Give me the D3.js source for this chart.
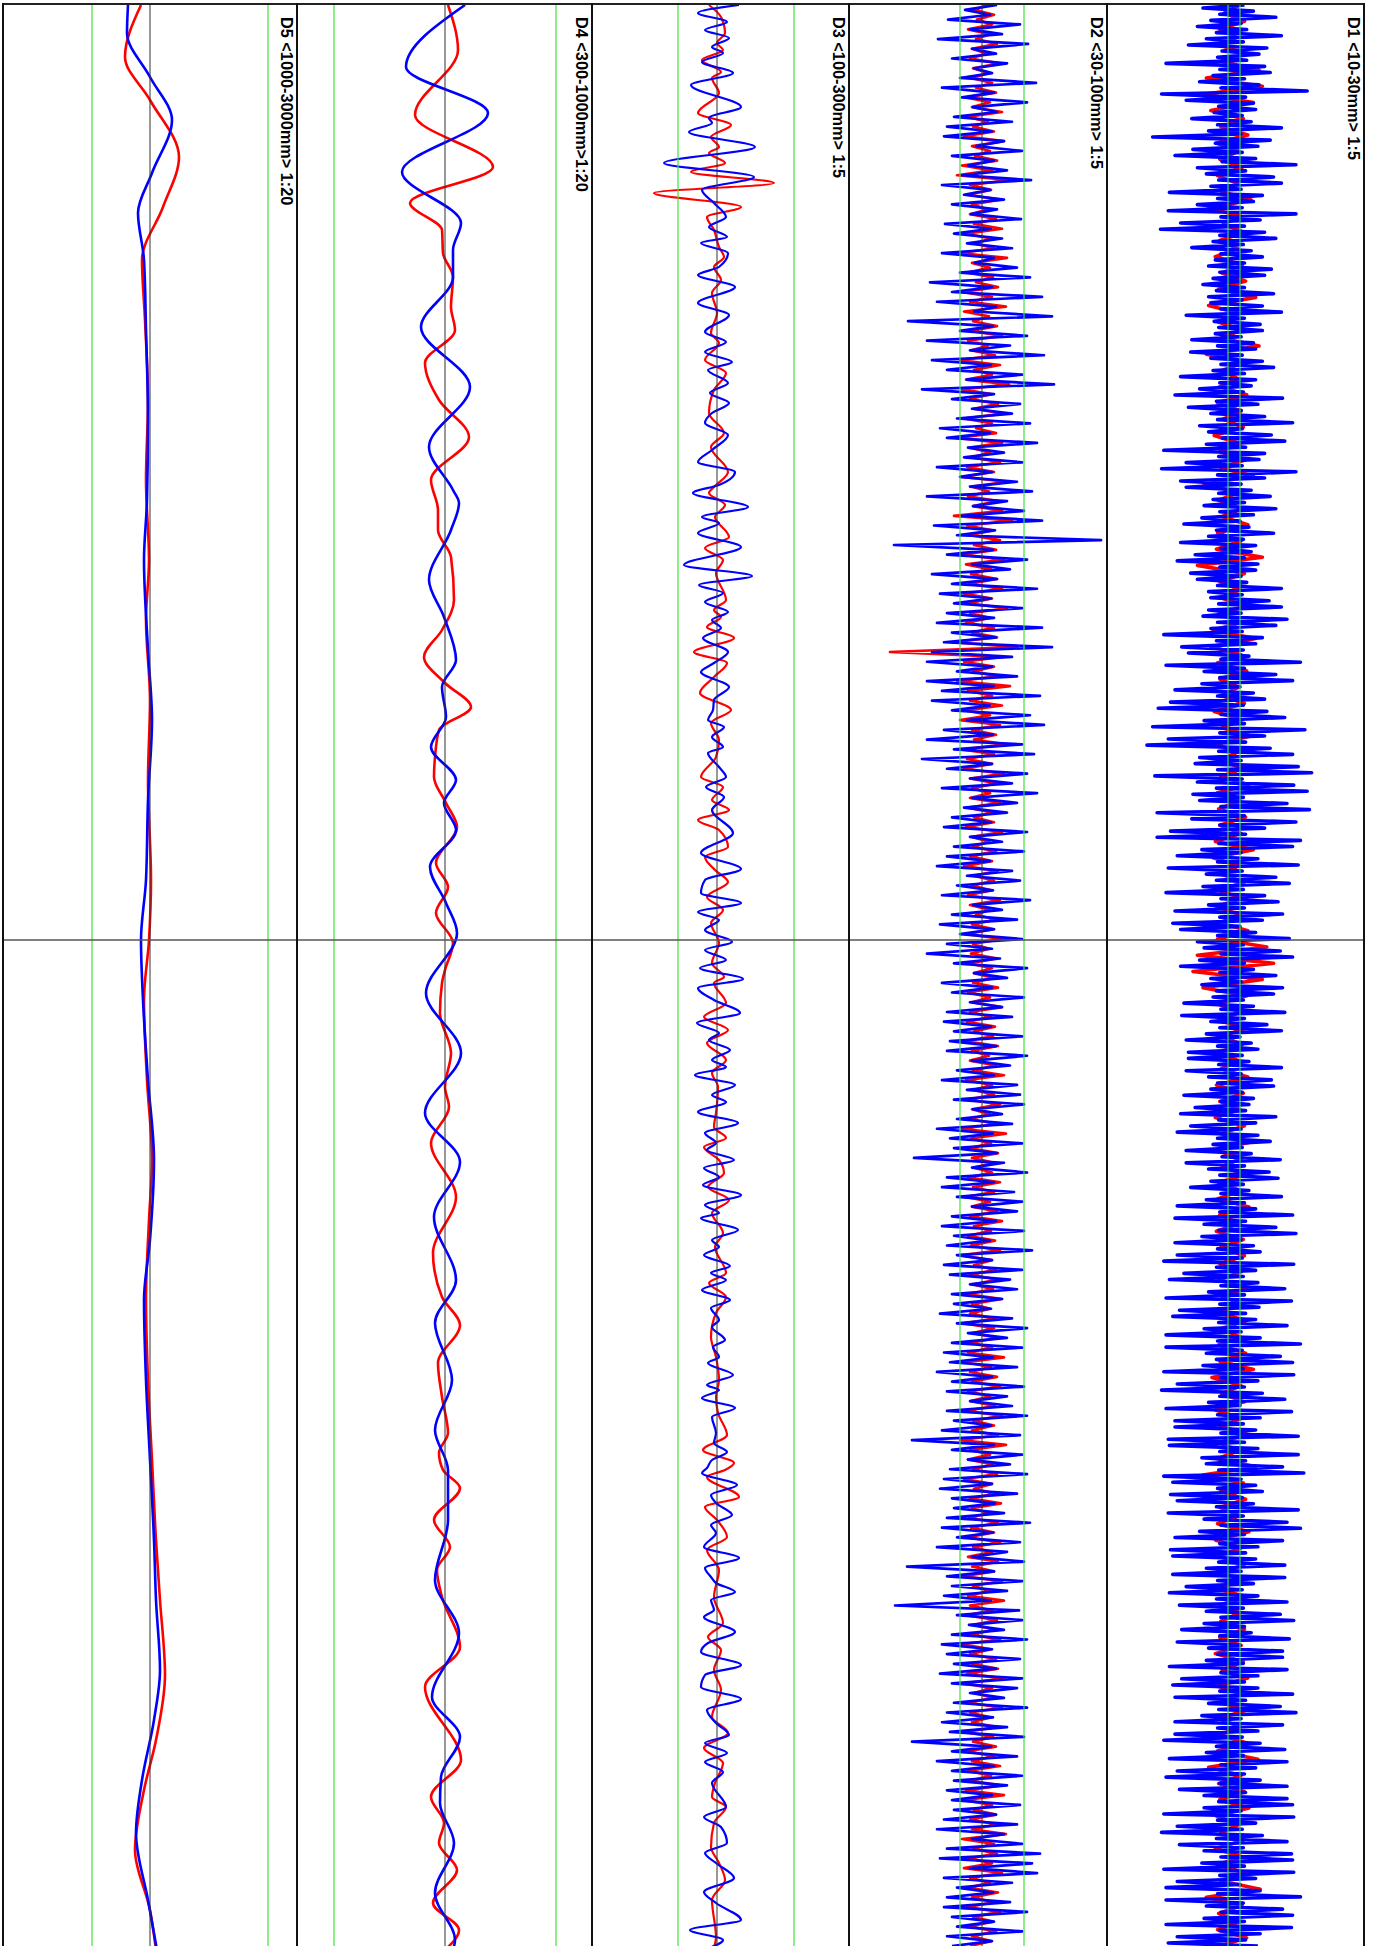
<!DOCTYPE html>
<html>
<head>
<meta charset="utf-8">
<script src="https://cdn.jsdelivr.net/npm/d3@7/dist/d3.min.js"></script>
<style>
body { margin: 0; background: #fff; }
svg { display: block; }
</style>
</head>
<body>
<div id="chart"></div>
<script>
// Track titles, left to right.
var trackLabels = ["D5 <1000-3000mm> 1:20", "D4 <300-1000mm>1:20", "D3 <100-300mm> 1:5", "D2 <30-100mm> 1:5", "D1 <10-30mm> 1:5"];

// Green limit lines per track (value units).
var greenLimits = [[-58, 118], [-111, 111], [-39, 77], [-22, 42], [-3, 9]];

// Depth of the horizontal marker line.
var markerDepth = 940;

// D5: [depth, value]
var d5Red = [[5,-9],[57,-25],[100,0],[157,29],[207,13],[260,-8],[320,-5],[400,-2],[480,-4],[560,-1],[620,-4],[700,0],[780,-2],[880,1],[940,-1],[1000,-6],[1080,-3],[1160,2],[1220,-1],[1300,-4],[1380,-2],[1460,2],[1540,6],[1600,10],[1675,15],[1740,6],[1790,-6],[1850,-15],[1910,0],[1950,6]];
var d5Blue = [[5,-22],[33,-23],[77,0],[120,22],[173,2],[213,-12],[260,-6],[330,-4],[420,-2],[500,-3],[560,-6],[650,-2],[720,2],[800,-2],[880,-4],[940,-9],[1000,-7],[1080,-2],[1160,4],[1240,0],[1300,-6],[1380,-4],[1460,0],[1540,4],[1600,6],[1670,10],[1720,4],[1780,-8],[1833,-14],[1900,-2],[1950,7]];

// D4: [depth, value]
var d4Red = [[5,3],[50,13],[115,-30],[167,48],[203,-35],[230,-3],[253,-2],[277,8],[307,6],[330,10],[363,-20],[400,-6],[437,24],[480,-14],[510,-7],[530,-7],[557,6],[600,9],[630,-3],[657,-21],[683,0],[707,26],[730,-6],[757,-10],[777,-11],[803,1],[827,12],[863,-9],[887,3],[913,-9],[943,8],[970,0],[983,-3],[1013,-5],[1053,6],[1087,0],[1107,4],[1143,-14],[1197,11],[1253,-12],[1297,-3],[1325,15],[1363,-7],[1397,-3],[1433,3],[1453,-6],[1470,-2],[1488,15],[1520,-11],[1547,5],[1570,-8],[1597,-3],[1647,15],[1687,-20],[1760,16],[1797,-14],[1823,-1],[1843,-6],[1870,12],[1903,-12],[1930,14],[1950,0]];
var d4Blue = [[5,20],[67,-39],[113,43],[172,-43],[223,16],[250,8],[277,8],[327,-24],[387,25],[447,-16],[490,8],[503,14],[530,6],[580,-16],[617,-1],[660,11],[687,-3],[717,1],[747,-14],[780,11],[803,-1],[830,11],[867,-15],[903,1],[933,12],[993,-19],[1053,16],[1113,-20],[1162,15],[1217,-11],[1280,11],[1323,-10],[1380,7],[1430,-10],[1470,3],[1520,3],[1580,-10],[1633,14],[1697,-13],[1737,15],[1777,-4],[1803,-5],[1843,9],[1893,-10],[1940,10],[1950,8]];

// D3: [depth, value]
var d3Red = [[5,-8],[17,4],[33,8],[43,0],[50,6],[60,-15],[72,4],[78,-5],[93,2],[113,-19],[125,14],[137,-6],[147,2],[153,-8],[163,8],[172,-26],[183,57],[193,-63],[207,24],[217,-10],[230,-3],[247,2],[257,7],[267,-3],[280,4],[293,-5],[313,0],[333,-6],[343,2],[360,-12],[373,9],[390,-3],[413,-8],[433,7],[447,-6],[472,11],[487,-3],[493,-8],[505,8],[517,-2],[537,12],[548,-12],[560,6],[573,-1],[600,9],[610,-3],[617,4],[627,-10],[638,17],[652,-23],[663,10],[677,-3],[693,-17],[710,14],[723,-6],[740,2],[757,-1],[777,-16],[787,6],[800,-5],[810,12],[820,-19],[830,2],[847,11],[857,-12],[870,-2],[882,11],[897,-10],[910,6],[923,-6],[943,2],[963,-5],[977,7],[983,-3],[1003,9],[1017,-13],[1030,11],[1043,-10],[1060,9],[1073,-5],[1087,1],[1113,-1],[1127,-3],[1138,9],[1147,-13],[1160,2],[1173,7],[1187,-9],[1200,12],[1213,-5],[1233,6],[1247,-2],[1273,9],[1283,-8],[1297,9],[1313,-1],[1337,-6],[1357,-1],[1380,2],[1397,-1],[1413,1],[1435,10],[1450,-14],[1463,17],[1470,8],[1477,-10],[1497,22],[1507,-12],[1520,0],[1537,10],[1550,-10],[1570,2],[1597,-3],[1623,6],[1637,-9],[1650,4],[1670,-3],[1690,4],[1717,-5],[1733,11],[1748,-13],[1763,6],[1783,-2],[1797,-5],[1807,9],[1823,-3],[1847,-6],[1863,2],[1880,8],[1900,-5],[1937,-1],[1948,-3]];
var d3Blue = [[5,22],[13,-19],[22,10],[30,-12],[38,12],[47,-5],[53,6],[62,-15],[73,16],[85,-26],[107,24],[118,-8],[123,-5],[132,-28],[147,38],[163,-53],[177,37],[190,-15],[203,-3],[217,9],[227,-8],[237,10],[243,-16],[253,11],[267,2],[275,-19],[287,18],[303,-19],[315,12],[332,-12],[342,9],[352,-12],[362,15],[370,-9],[383,11],[393,-7],[403,12],[413,-5],[423,-12],[435,11],[450,-5],[462,-19],[472,18],[485,2],[493,-24],[507,31],[517,-15],[523,2],[533,-19],[547,24],[565,-33],[576,35],[585,-18],[593,6],[602,-12],[612,11],[620,-5],[628,4],[638,-14],[652,11],[663,-3],[672,-16],[687,12],[700,-3],[710,-4],[720,-9],[727,7],[737,-5],[747,6],[753,-9],[767,2],[777,9],[787,-11],[797,7],[810,-5],[833,16],[853,-16],[869,24],[880,-12],[893,-16],[903,24],[912,-19],[920,2],[930,-12],[942,15],[950,-12],[960,9],[968,-17],[979,26],[988,-19],[1000,-3],[1013,23],[1023,-20],[1033,2],[1040,-8],[1050,13],[1060,-5],[1067,9],[1075,-22],[1085,18],[1095,-5],[1102,9],[1112,-19],[1123,21],[1133,-12],[1143,-1],[1150,-10],[1160,17],[1168,-13],[1177,2],[1185,-14],[1195,24],[1205,-12],[1213,2],[1218,-16],[1230,21],[1240,-5],[1247,2],[1255,-13],[1266,13],[1273,-6],[1280,9],[1290,-15],[1300,13],[1308,-6],[1320,2],[1327,-5],[1340,8],[1347,-4],[1357,2],[1363,-9],[1375,16],[1385,-10],[1390,2],[1398,-15],[1408,18],[1417,-5],[1433,-1],[1443,-3],[1452,10],[1460,-5],[1468,-10],[1473,-15],[1485,20],[1495,-6],[1503,-1],[1515,15],[1525,-6],[1533,-1],[1547,-13],[1558,22],[1568,-12],[1577,-6],[1583,-1],[1592,18],[1600,-6],[1610,-3],[1617,-13],[1632,18],[1643,-9],[1652,-16],[1665,24],[1675,-12],[1687,-16],[1699,24],[1710,-10],[1723,-1],[1735,12],[1743,-12],[1753,10],[1762,-12],[1772,6],[1783,-5],[1807,9],[1817,-13],[1827,4],[1843,10],[1853,-12],[1863,-1],[1878,17],[1892,-13],[1903,-1],[1920,24],[1930,-27],[1940,6],[1948,-8]];

// D2: evenly sampled values, top to bottom
var d2Red = [6,-8,12,-5,10,-14,8,-6,15,-10,5,-12,18,-9,7,-11,10,-6,14,-16,8,-10,20,-15,6,-9,12,-18,22,-10,8,-7,15,-20,10,-25,28,-12,9,-14,
18,-10,6,-12,14,-8,20,-16,9,-7,12,-22,25,-10,8,-14,11,-6,16,-20,10,-12,24,-18,7,-9,15,-11,20,-14,6,-10,13,-22,18,-8,10,-16,27,-20,
9,-12,16,-8,22,-18,10,-6,14,-25,20,-12,8,-10,18,-15,12,-20,25,-10,7,-14,16,-9,20,-28,30,-15,10,-12,18,-8,14,-20,22,-16,9,-11,15,-13,
20,-18,10,-14,25,-12,8,-16,12,-10,15,-30,35,-92,20,-18,12,-9,16,-25,28,-14,10,-12,20,-16,8,-22,18,-10,14,-8,24,-20,12,-15,10,-18,22,-12,
15,-10,8,-12,18,-14,10,-8,12,-16,20,-10,7,-9,14,-12,10,-18,16,-8,12,-10,9,-14,18,-12,8,-6,14,-10,12,-16,20,-9,7,-11,15,-13,10,-8,
12,-9,16,-14,8,-10,20,-12,9,-15,13,-8,11,-18,16,-10,7,-12,14,-9,22,-16,10,-8,12,-14,18,-10,8,-12,15,-20,24,-11,9,-13,16,-10,12,-8,
10,-14,18,-9,12,-16,8,-10,15,-12,20,-8,9,-14,13,-11,18,-22,10,-8,14,-12,16,-9,11,-15,20,-10,8,-12,14,-18,12,-9,16,-11,10,-14,22,-16,
9,-12,15,-10,18,-14,8,-11,13,-16,20,-9,12,-10,16,-22,24,-12,8,-14,11,-9,15,-18,10,-8,14,-12,19,-10,7,-13,16,-11,12,-15,18,-9,10,-14,
16,-10,12,-18,20,-9,8,-14,22,-12,10,-16,15,-8,13,-11,18,-20,9,-12,14,-10,16,-15,22,-18,10,-8,12,-14,20,-12,8,-10,15,-18,11,-9,14,-16,
12,-10,18,-14,9,-12,20,-16,22,-18,10,-8,14,-12,16,-10,24,-20,12,-9,15,-13,10,-18,20,-12,8,-14,16,-10,12,-15,18,-9,11,-13,14,-10,9,-12];
var d2Blue = [15,-17,8,-34,38,-12,20,-44,46,-10,14,-30,25,-8,10,-22,54,-40,12,-20,45,-9,15,-28,30,-35,10,-38,22,-6,40,-30,12,-14,25,-20,49,-40,8,-18,
22,-30,15,-11,39,-37,9,-28,20,-15,30,-40,12,-7,35,-22,48,-52,10,-30,60,-45,14,-8,70,-74,11,-22,45,-55,28,-12,62,-50,9,-35,40,-15,72,-60,
12,-30,38,-10,30,-25,48,-42,8,-35,55,-14,22,-18,40,-45,10,-22,35,-12,50,-55,25,-9,42,-20,60,-48,13,-25,119,-88,11,-35,45,-10,28,-50,15,-30,
55,-42,9,-28,40,-35,12,-45,60,-30,14,-38,70,-50,30,-55,10,-25,35,-55,12,-40,58,-50,8,-30,48,-15,62,-38,11,-55,40,-28,52,-60,10,-35,45,-12,
30,-40,55,-10,35,-18,25,-30,9,-38,45,-12,20,-28,42,-35,8,-45,30,-15,38,-25,11,-40,48,-9,20,-30,35,-42,12,-22,40,-35,10,-55,18,-28,45,-8,
25,-40,10,-30,42,-12,20,-35,30,-38,9,-28,40,-32,14,-35,45,-10,28,-25,12,-40,35,-15,38,-28,42,-9,20,-25,30,-45,11,-32,40,-28,15,-68,22,-10,
45,-35,12,-40,32,-25,40,-10,35,-30,14,-40,42,-28,8,-35,50,-25,10,-38,40,-32,28,-12,35,-30,20,-28,9,-42,30,-25,45,-14,25,-30,40,-38,11,-32,
35,-45,10,-30,42,-35,25,-12,30,-35,45,-28,9,-40,38,-70,12,-30,40,-14,28,-32,45,-38,10,-42,35,-30,13,-28,22,-35,48,-40,11,-25,38,-45,25,-10,
42,-75,12,-35,40,-30,25,-38,9,-87,37,-25,40,-13,22,-30,45,-40,10,-35,38,-28,14,-42,40,-30,35,-12,22,-28,45,-35,11,-40,25,-32,42,-70,9,-30,
35,-45,12,-30,40,-28,25,-35,10,-30,38,-28,14,-38,35,-45,22,-10,40,-35,58,-42,50,-12,55,-38,30,-25,11,-35,28,-38,45,-30,12,-25,40,-35,10,-30];

// D1: evenly sampled values, top to bottom
var d1Red = [8,-6,12,-10,5,-9,14,-7,25,-22,28,-24,20,-18,11,-9,15,-13,7,-10,10,-12,6,-8,18,-20,9,-7,12,-10,6,-14,10,-8,13,-11,22,-20,8,-12,
10,-9,25,-22,12,-8,6,-10,14,-12,9,-7,11,-15,8,-10,13,-9,20,-24,7,-11,10,-8,15,-12,9,-13,28,-30,12,-10,8,-9,14,-11,10,-16,22,-18,
9,-12,14,-10,7,-9,12,-15,10,-8,18,-14,6,-10,11,-9,16,-12,8,-11,13,-10,9,-14,20,-16,7,-9,12,-11,10,-13,8,-10,15,-12,32,-30,38,-34,
28,-25,14,-12,9,-11,13,-8,10,-12,7,-9,15,-13,11,-10,8,-14,12,-9,18,-15,10,-8,13,-11,9,-12,16,-10,8,-13,11,-9,12,-10,9,-11,14,-8,
10,-12,14,-9,8,-11,13,-10,20,-17,9,-8,12,-14,10,-9,15,-11,7,-12,22,-25,11,-9,13,-10,8,-12,16,-14,9,-11,12,-8,10,-13,14,-10,8,-9,
12,-10,9,-14,11,-8,15,-12,10,-9,13,-11,8,-10,14,-12,24,-20,9,-11,12,-10,16,-13,8,-9,11,-14,10,-12,13,-9,26,-22,10,-11,8,-12,14,-10];
var d1Blue = [12,-25,20,-10,40,-18,9,-30,14,-13,45,-22,11,-38,32,-8,25,-12,14,-58,30,-10,35,-16,12,-28,25,-9,68,-62,13,-40,20,-11,22,-15,10,-35,18,
-12,45,-20,9,-70,35,-14,24,-34,10,-50,22,-8,58,-30,13,-22,38,-11,45,-18,9,-55,28,-12,20,-30,10,-56,58,-9,26,-45,12,-63,30,-10,40,-16,
11,-35,18,-9,28,-14,12,-20,36,-10,30,-16,8,-25,12,-13,38,-20,10,-18,28,-9,45,-40,12,-15,26,-11,28,-14,9,-35,20,-12,22,-36,10,-18,28,
-9,38,-16,12,-45,22,-10,18,-28,11,-50,46,-13,24,-38,9,-18,30,-12,55,-28,10,-20,36,-8,48,-22,13,-60,30,-11,25,-40,10,-62,58,-12,30,-45,
9,-40,18,-11,35,-16,12,-24,40,-10,20,-26,8,-42,16,-13,38,-20,11,-45,22,-9,18,-32,12,-48,24,-10,22,-36,9,-30,14,-12,45,-20,10,-18,34,
-11,45,-20,9,-25,50,-12,40,-18,10,-60,28,-13,22,-44,11,-38,16,-9,62,-58,12,-24,40,-10,55,-26,8,-50,20,-12,30,-54,11,-65,32,-9,48,-24,
12,-70,66,-10,30,-56,13,-75,35,-11,55,-28,9,-32,60,-12,72,-68,10,-30,56,-13,68,-34,11,-28,50,-9,70,-66,12,-35,58,-10,30,-54,13,-66,62,
-11,55,-26,9,-48,24,-12,60,-56,10,-22,40,-13,52,-25,11,-58,30,-9,42,-20,12,-50,46,-10,28,-52,8,-45,22,-12,52,-30,11,-24,44,-9,55,-28,
12,-45,20,-10,40,-18,9,-26,46,-13,38,-16,11,-42,20,-9,48,-44,12,-18,32,-10,45,-22,8,-40,18,-12,24,-38,10,-38,16,-11,45,-40,9,-20,36,
-12,38,-18,10,-42,20,-9,16,-32,13,-45,40,-11,22,-36,9,-48,24,-12,35,-16,10,-40,18,-8,44,-40,12,-20,34,-10,42,-18,11,-36,16,-9,45,-22,
12,-48,22,-10,55,-50,13,-24,40,-11,58,-26,9,-50,20,-12,26,-48,10,-60,56,-13,22,-42,11,-55,24,-9,48,-20,12,-58,54,-10,25,-46,13,-52,22,
-11,50,-24,9,-58,26,-12,62,-58,10,-22,44,-13,55,-25,11,-60,56,-9,24,-48,12,-62,28,-10,48,-20,8,-58,54,-12,26,-50,11,-50,22,-9,60,-56,
12,-55,24,-10,60,-26,13,-22,46,-11,65,-60,9,-52,22,-12,28,-54,10,-48,20,-13,60,-56,11,-24,50,-9,62,-28,12,-50,46,-10,24,-54,13,-52,22,
-11,48,-22,9,-52,48,-12,20,-40,10,-55,24,-13,50,-46,11,-22,44,-9,56,-24,12,-44,18,-10,52,-48,8,-20,46,-12,46,-22,11,-55,50,-9,24,-44,
12,-52,24,-10,55,-50,13,-20,44,-11,58,-26,9,-50,46,-12,24,-50,10,-60,26,-13,48,-22,11,-55,50,-9,22,-48,12,-58,26,-10,50,-46,13,-24,50,
-11,55,-24,9,-60,56,-12,22,-48,10,-62,28,-13,50,-46,11,-24,54,-9,55,-26,12,-60,56,-10,22,-48,8,-58,26,-12,62,-58,11,-22,46,-9,55,-24,12,-58,54,-10,26,-48,13,-56,24];

// Page size and track layout
var width = 1375;
var height = 1946;
var frameTop = 4;
var trackEdges = [3, 297, 592, 849, 1107, 1364];
var trackCenters = [150, 445, 717, 982, 1231];

// Spread an evenly sampled series over the depth range
function sampled(values, first, last) {
    var step = (last - first) / (values.length - 1);
    return values.map(function(v, i) { return [first + i * step, v]; });
}

// px per value unit, stroke widths
var tracks = [
    {red: d5Red, blue: d5Blue, smooth: true, lineWidth: 2.6, center: true, gain: 1},
    {red: d4Red, blue: d4Blue, smooth: true, lineWidth: 2.6, center: true, gain: 1},
    {red: d3Red, blue: d3Blue, smooth: true, lineWidth: 2.2, center: true, gain: 1},
    {red: sampled(d2Red, 5, 1946), blue: sampled(d2Blue, 5, 1946), smooth: false, lineWidth: 2.7, center: true, gain: 1},
    {red: sampled(d1Red, 5, 1946), blue: sampled(d1Blue, 5, 1946), smooth: false, lineWidth: 3.6, center: false, gain: 1.12}
];

var svg = d3.select("#chart")
            .append("svg")
            .attr("width", width)
            .attr("height", height);

svg.append("rect")
    .attr("width", width)
    .attr("height", height)
    .attr("fill", "#fff");

// Depth runs down the page
var yScale = d3.scaleLinear()
                .domain([0, height])
                .range([0, height]);

tracks.forEach(function(t, i) {
    var x0 = trackEdges[i], x1 = trackEdges[i + 1], c = trackCenters[i];

    var xScale = d3.scaleLinear()
                    .domain([-100, 100])
                    .range([c - 100 * t.gain, c + 100 * t.gain]);

    svg.append("clipPath")
        .attr("id", "clip" + i)
        .append("rect")
        .attr("x", x0)
        .attr("y", frameTop)
        .attr("width", x1 - x0)
        .attr("height", height - frameTop);

    var g = svg.append("g").attr("clip-path", "url(#clip" + i + ")");

    var line = d3.line()
                .x(function(d) { return xScale(d[1]); })
                .y(function(d) { return yScale(d[0]); })
                .curve(t.smooth ? d3.curveMonotoneY : d3.curveLinear);

    g.append("path")
        .datum(t.red)
        .attr("d", line)
        .attr("fill", "none")
        .attr("stroke", "#ff0000")
        .attr("stroke-width", t.lineWidth)
        .attr("stroke-linejoin", "round");

    g.append("path")
        .datum(t.blue)
        .attr("d", line)
        .attr("fill", "none")
        .attr("stroke", "#0000ff")
        .attr("stroke-width", t.lineWidth)
        .attr("stroke-linejoin", "round");

    // centre line
    if (t.center) {
        g.append("line")
            .attr("x1", xScale(0)).attr("x2", xScale(0))
            .attr("y1", frameTop).attr("y2", height)
            .attr("stroke", "#333")
            .attr("stroke-width", 1);
    }

    // green limit lines
    greenLimits[i].forEach(function(lim) {
        g.append("line")
            .attr("x1", xScale(lim / t.gain)).attr("x2", xScale(lim / t.gain))
            .attr("y1", frameTop).attr("y2", height)
            .attr("stroke", "#3de33d")
            .attr("stroke-width", 1.2);
    });

    // title, rotated to read top to bottom
    svg.append("text")
        .attr("transform", "translate(" + (x1 - 16) + "," + 17 + ") rotate(90)")
        .attr("font-family", "Liberation Sans, Arial, sans-serif")
        .attr("font-size", "16.3px")
        .attr("font-weight", "bold")
        .attr("fill", "#000")
        .text(trackLabels[i]);
});

// horizontal marker line
svg.append("line")
    .attr("x1", trackEdges[0]).attr("x2", trackEdges[trackEdges.length - 1])
    .attr("y1", yScale(markerDepth)).attr("y2", yScale(markerDepth))
    .attr("stroke", "#555")
    .attr("stroke-width", 1.5);

// frame
svg.append("line")
    .attr("x1", trackEdges[0]).attr("x2", trackEdges[trackEdges.length - 1])
    .attr("y1", frameTop).attr("y2", frameTop)
    .attr("stroke", "#222")
    .attr("stroke-width", 2);

trackEdges.forEach(function(x) {
    svg.append("line")
        .attr("x1", x).attr("x2", x)
        .attr("y1", frameTop - 1).attr("y2", height)
        .attr("stroke", "#111")
        .attr("stroke-width", 2);
});
</script>
</body>
</html>
